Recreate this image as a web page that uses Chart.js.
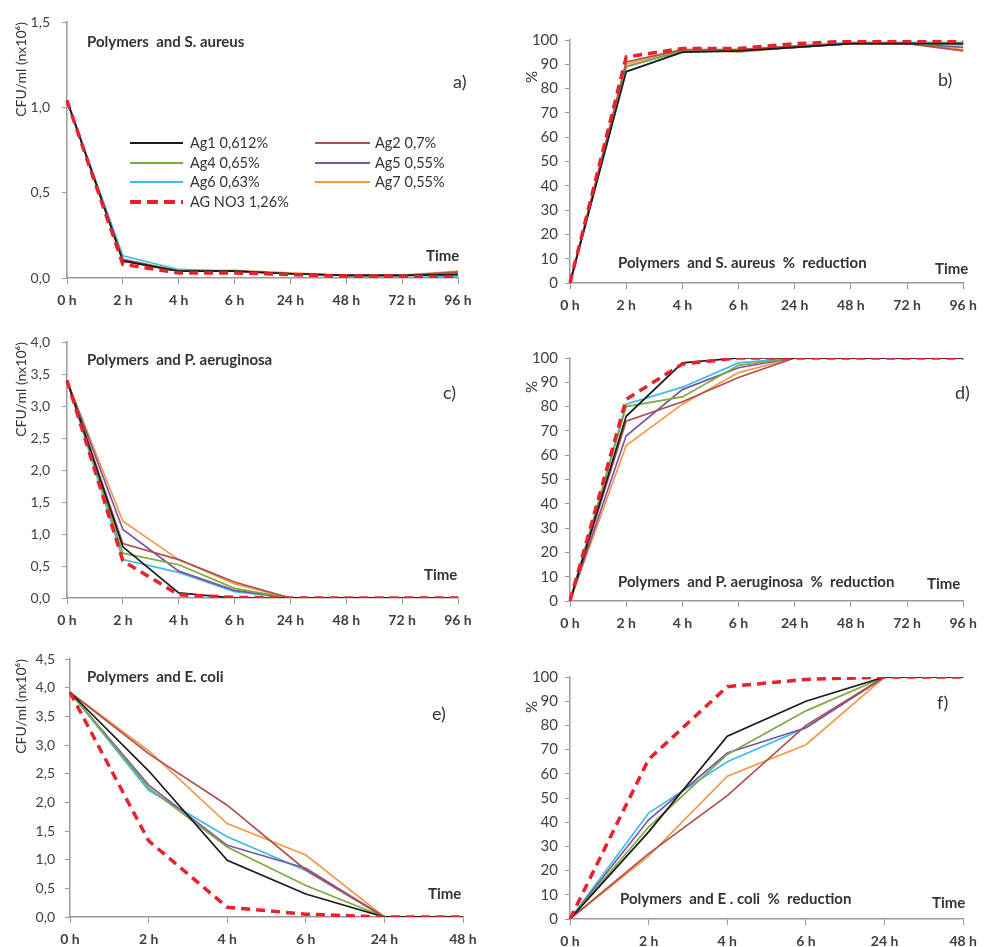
<!DOCTYPE html>
<html>
<head>
<meta charset="utf-8">
<script src="https://cdn.jsdelivr.net/npm/chart.js@4.4.1/dist/chart.umd.min.js"></script>
<style>
  body { margin: 0; background: #fff; }
  .panel { position: absolute; }
  .key { position: absolute; height: 18px; line-height: 18px; font: 14.5px Lato, sans-serif; color: #333; white-space: nowrap; }
  .key span.sw { position: absolute; top: 8px; height: 2px; }
  .key span.tx { position: absolute; }
</style>
</head>
<body>
<div class="panel" id="pa" style="left:0;top:0"><canvas id="ca" width="485" height="318"></canvas></div>
<div class="panel" id="pb" style="left:490px;top:0"><canvas id="cb" width="495" height="318"></canvas></div>
<div class="panel" id="pc" style="left:0;top:318px"><canvas id="cc" width="485" height="322"></canvas></div>
<div class="panel" id="pd" style="left:490px;top:318px"><canvas id="cd" width="495" height="322"></canvas></div>
<div class="panel" id="pe" style="left:0;top:640px"><canvas id="ce" width="485" height="307"></canvas></div>
<div class="panel" id="pf" style="left:490px;top:640px"><canvas id="cf" width="495" height="307"></canvas></div>
<div id="legend"></div>

<script>
// time points
const timesLong = ['0 h', '2 h', '4 h', '6 h', '24 h', '48 h', '72 h', '96 h'];
const timesShort = ['0 h', '2 h', '4 h', '6 h', '24 h', '48 h'];

// series (same order everywhere)
const seriesNames = ['Ag1 0,612%', 'Ag2 0,7%', 'Ag4 0,65%', 'Ag5 0,55%', 'Ag6 0,63%', 'Ag7 0,55%', 'AG NO3 1,26%'];
const seriesColors = ['#1a1a1a', '#b0504e', '#7cab3f', '#7c55a6', '#3bbde6', '#f2994a', '#e8212b'];

// a) S. aureus, CFU/ml (nx10^6)
const aureusCfu = [
  [1.04, 0.10, 0.04, 0.04, 0.025, 0.015, 0.015, 0.02],
  [1.04, 0.11, 0.04, 0.04, 0.025, 0.015, 0.015, 0.035],
  [1.04, 0.10, 0.04, 0.04, 0.025, 0.015, 0.015, 0.025],
  [1.04, 0.10, 0.04, 0.04, 0.025, 0.015, 0.015, 0.025],
  [1.04, 0.13, 0.05, 0.04, 0.025, 0.015, 0.015, 0.01],
  [1.04, 0.11, 0.04, 0.045, 0.03, 0.015, 0.015, 0.04],
  [1.04, 0.08, 0.03, 0.03, 0.02, 0.01, 0.01, 0.005]
];
// b) S. aureus, % reduction
const aureusPct = [
  [0, 87, 95, 95.5, 97, 98.5, 98.5, 98.5],
  [0, 91, 96, 96, 97.5, 98.5, 98.5, 95.5],
  [0, 89, 95.5, 96, 97, 98.5, 98.5, 98],
  [0, 89, 95.5, 95.5, 97, 98.5, 98.5, 97],
  [0, 87, 95, 95.5, 97.5, 99, 99, 99],
  [0, 90, 96, 95, 97, 98.5, 98.5, 96],
  [0, 93, 96.5, 96.5, 98.5, 99.5, 99.5, 99.5]
];
// c) P. aeruginosa, CFU/ml
const aeruginosaCfu = [
  [3.4, 0.8, 0.08, 0, 0, 0, 0, 0],
  [3.4, 0.85, 0.6, 0.25, 0, 0, 0, 0],
  [3.4, 0.7, 0.52, 0.15, 0, 0, 0, 0],
  [3.4, 1.07, 0.42, 0.12, 0, 0, 0, 0],
  [3.4, 0.6, 0.4, 0.1, 0, 0, 0, 0],
  [3.4, 1.2, 0.6, 0.22, 0, 0, 0, 0],
  [3.4, 0.58, 0.05, 0.01, 0, 0, 0, 0]
];
// d) P. aeruginosa, % reduction
const aeruginosaPct = [
  [0, 76, 98, 100, 100, 100, 100, 100],
  [0, 74, 82, 92, 100, 100, 100, 100],
  [0, 80, 84, 97, 100, 100, 100, 100],
  [0, 68, 87, 96, 100, 100, 100, 100],
  [0, 81, 88, 98, 100, 100, 100, 100],
  [0, 64, 81, 94, 100, 100, 100, 100],
  [0, 83, 97.5, 100, 100, 100, 100, 100]
];
// e) E. coli, CFU/ml
const coliCfu = [
  [3.92, 2.55, 0.99, 0.4, 0, 0],
  [3.92, 2.85, 1.95, 0.82, 0, 0],
  [3.92, 2.25, 1.22, 0.55, 0, 0],
  [3.92, 2.3, 1.25, 0.85, 0, 0],
  [3.92, 2.21, 1.4, 0.81, 0, 0],
  [3.92, 2.9, 1.63, 1.08, 0, 0],
  [3.92, 1.33, 0.17, 0.05, 0, 0]
];
// f) E. coli, % reduction
const coliPct = [
  [0, 36, 75.5, 90, 100, 100],
  [0, 27, 51, 80, 100, 100],
  [0, 38, 68, 86, 100, 100],
  [0, 41, 68.6, 79, 100, 100],
  [0, 43.8, 65, 79, 100, 100],
  [0, 26, 59, 72, 100, 100],
  [0, 66, 96, 99, 100, 100]
];

// draws free text (panel captions, letters, "Time", "%")
const notesPlugin = {
  id: 'notes',
  afterDraw(chart, args, opts) {
    const ctx = chart.ctx;
    (opts.items || []).forEach(n => {
      ctx.save();
      ctx.font = n.font;
      ctx.fillStyle = '#333';
      ctx.textBaseline = 'middle';
      ctx.textAlign = n.rotate ? 'center' : 'left';
      ctx.translate(n.x, n.y);
      if (n.rotate) ctx.rotate(n.rotate);
      ctx.fillText(n.text, 0, 0);
      ctx.restore();
    });
  }
};

const axisGrey = '#9a9a9a';
const tickColor = '#404040';

function makePanel(id, labels, values, cfg) {
  const datasets = values.map((vals, i) => {
    const isRef = i === 6;
    return {
      label: seriesNames[i],
      data: vals,
      borderColor: seriesColors[i],
      backgroundColor: seriesColors[i],
      borderWidth: isRef ? 3.5 : 1.7,
      borderDash: isRef ? [9, 6] : [],
      pointRadius: 0,
      tension: 0,
      order: isRef ? -1 : 0
    };
  });

  const ctx = document.getElementById(id).getContext('2d');
  return new Chart(ctx, {
    type: 'line',
    data: { labels: labels, datasets: datasets },
    plugins: [notesPlugin],
    options: {
      responsive: false,
      animation: false,
      layout: { padding: { top: cfg.top, right: cfg.right, left: 0, bottom: 0 } },
      plugins: {
        legend: { display: false },
        tooltip: { enabled: false },
        notes: { items: cfg.notes }
      },
      scales: {
        x: {
          type: 'category',
          offset: false,
          grid: { drawOnChartArea: false, drawTicks: true, tickLength: 6, color: axisGrey },
          border: { color: axisGrey, width: 1.5 },
          ticks: { color: tickColor, font: { family: 'Lato', size: 14, weight: 'bold' }, padding: 8, maxRotation: 0, autoSkip: false },
          afterFit: s => { s.height = cfg.xHeight; }
        },
        y: {
          min: 0,
          max: cfg.max,
          grid: { drawOnChartArea: false, drawTicks: true, tickLength: 5, color: axisGrey },
          border: { color: axisGrey, width: 1.5 },
          ticks: {
            stepSize: cfg.step,
            color: tickColor,
            font: { family: 'Lato', size: cfg.pct ? 15 : 14 },
            padding: cfg.tickPad,
            callback: v => cfg.pct ? String(v) : v.toFixed(1).replace('.', ',')
          },
          title: {
            display: !cfg.pct,
            text: 'CFU/ml (nx10⁶)',
            align: 'end',
            color: '#333',
            font: { family: 'Lato', size: 14 },
            padding: { top: 13, bottom: 0 }
          },
          afterFit: s => { s.width = cfg.yWidth; }
        }
      }
    }
  });
}

const capFont = 'bold 15px Lato';
const letterFont = '18px Lato';

makePanel('ca', timesLong, aureusCfu, {
  top: 22, right: 27, xHeight: 40, yWidth: 67, max: 1.5, step: 0.5, tickPad: 12,
  notes: [
    { text: 'Polymers  and S. aureus', x: 87, y: 42, font: capFont },
    { text: 'a)', x: 453, y: 82, font: letterFont },
    { text: 'Time', x: 426, y: 256, font: capFont }
  ]
});
makePanel('cb', timesLong, aureusPct, {
  top: 40, right: 18, xHeight: 35, yWidth: 80, max: 100, step: 10, tickPad: 7, pct: true,
  notes: [
    { text: '%', x: 42, y: 77, font: '15px Lato', rotate: -Math.PI / 2 },
    { text: 'b)', x: 448, y: 80, font: letterFont },
    { text: 'Polymers  and S. aureus  %  reduction', x: 128, y: 263, font: capFont },
    { text: 'Time', x: 445, y: 269, font: capFont }
  ]
});
makePanel('cc', timesLong, aeruginosaCfu, {
  top: 24, right: 27, xHeight: 42, yWidth: 67, max: 4, step: 0.5, tickPad: 12,
  notes: [
    { text: 'Polymers  and P. aeruginosa', x: 87, y: 42, font: capFont },
    { text: 'c)', x: 443, y: 75, font: letterFont },
    { text: 'Time', x: 424, y: 257, font: capFont }
  ]
});
makePanel('cd', timesLong, aeruginosaPct, {
  top: 40, right: 19, xHeight: 39, yWidth: 80, max: 100, step: 10, tickPad: 7, pct: true,
  notes: [
    { text: '%', x: 42, y: 69, font: '15px Lato', rotate: -Math.PI / 2 },
    { text: 'd)', x: 465, y: 75, font: letterFont },
    { text: 'Polymers  and P. aeruginosa  %  reduction', x: 128, y: 264, font: capFont },
    { text: 'Time', x: 437, y: 266, font: capFont }
  ]
});
makePanel('ce', timesShort, coliCfu, {
  top: 19, right: 22, xHeight: 30, yWidth: 70, max: 4.5, step: 0.5, tickPad: 10,
  notes: [
    { text: 'Polymers  and E. coli', x: 87, y: 37, font: capFont },
    { text: 'e)', x: 432, y: 74, font: letterFont },
    { text: 'Time', x: 428, y: 254, font: capFont }
  ]
});
makePanel('cf', timesShort, coliPct, {
  top: 37, right: 14, xHeight: 28, yWidth: 80, max: 100, step: 10, tickPad: 7, pct: true,
  notes: [
    { text: '%', x: 42, y: 67, font: '15px Lato', rotate: -Math.PI / 2 },
    { text: 'f)', x: 447, y: 63, font: letterFont },
    { text: 'Polymers  and E . coli  %  reduction', x: 130, y: 259, font: capFont },
    { text: 'Time', x: 442, y: 263, font: capFont }
  ]
});

// legend for panel a), two columns, placed inside the plot
const legendBox = document.getElementById('legend');
seriesNames.forEach((name, i) => {
  const col = i % 2;
  const row = Math.floor(i / 2);
  const item = document.createElement('div');
  item.className = 'key';
  item.style.left = (col === 0 ? 130 : 315) + 'px';
  item.style.top = (134 + row * 19.7) + 'px';
  const sw = document.createElement('span');
  sw.className = 'sw';
  sw.style.left = '0px';
  sw.style.width = (col === 0 ? 53 : 55) + 'px';
  if (i === 6) {
    sw.style.height = '4px';
    sw.style.top = '7px';
    sw.style.background = 'repeating-linear-gradient(to right, ' + seriesColors[i] + ' 0 11px, transparent 11px 17px)';
  } else {
    sw.style.background = seriesColors[i];
  }
  const tx = document.createElement('span');
  tx.className = 'tx';
  tx.style.left = '60px';
  tx.textContent = name;
  item.appendChild(sw);
  item.appendChild(tx);
  legendBox.appendChild(item);
});
</script>
</body>
</html>
